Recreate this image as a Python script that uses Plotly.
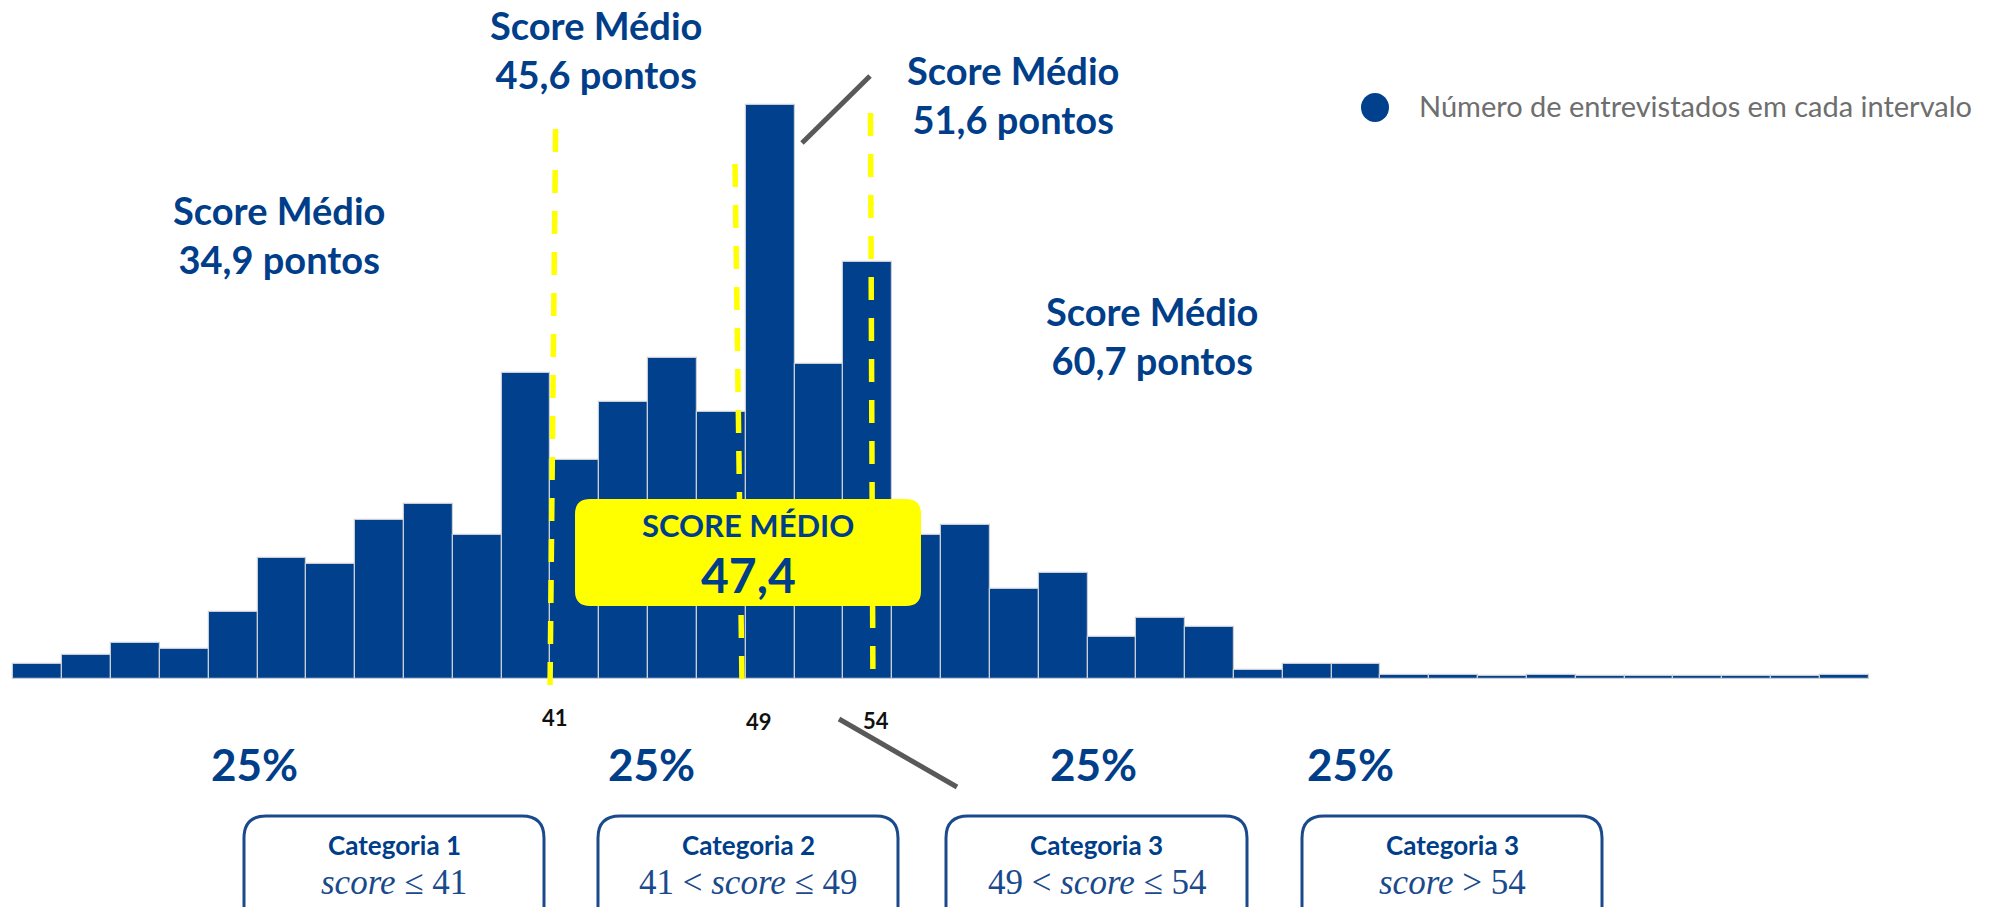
import plotly.graph_objects as go

# ---------------- data ----------------
bin_lower = [19, 21, 23, 25, 27, 29, 31, 33, 35, 37, 39, 41, 43, 45, 47, 49, 51, 53, 55,
             57, 59, 61, 63, 65, 67, 69, 71, 73, 75, 77, 79, 81, 83, 85, 87, 89, 91, 93]
counts = [10, 16, 24, 20, 45, 81, 77, 106, 117, 96, 204, 146, 185, 214, 178, 383, 210, 278, 96,
          103, 60, 71, 28, 41, 35, 6, 10, 10, 3, 3, 2, 3, 2, 2, 2, 2, 2, 3]
cut_points = [41, 49, 54]
group_means = [34.9, 45.6, 51.6, 60.7]
overall_mean = 47.4
group_shares = [25, 25, 25, 25]
group_names = ["Categoria 1", "Categoria 2", "Categoria 3", "Categoria 3"]
legend_name = "Número de entrevistados em cada intervalo"

# ---------------- styles / layout ----------------
W, H = 2011, 907
BIN_W = 2
BLUE = "#00408C"
TXT_BLUE = "#003E8A"
BOX_BLUE = "#1A4A8C"
YELLOW = "#FFFF00"
GREY = "#595959"
FONT = "Lato"


def fmt(v):
    return f"{v:.1f}".replace(".", ",")


def X(px):
    return px / W


def Y(py):
    return 1 - py / H


def rrect(x0, y0, x1, y1, r):
    pts = [
        ("M", [(x0 + r, y0)]), ("L", [(x1 - r, y0)]), ("Q", [(x1, y0), (x1, y0 + r)]),
        ("L", [(x1, y1 - r)]), ("Q", [(x1, y1), (x1 - r, y1)]), ("L", [(x0 + r, y1)]),
        ("Q", [(x0, y1), (x0, y1 - r)]), ("L", [(x0, y0 + r)]), ("Q", [(x0, y0), (x0 + r, y0)]),
    ]
    s = ""
    for cmd, ps in pts:
        s += cmd + " " + " ".join(f"{X(a):.5f},{Y(b):.5f}" for a, b in ps) + " "
    return s + "Z"


fig = go.Figure()
fig.add_trace(go.Bar(
    x=[b + BIN_W / 2 for b in bin_lower], y=counts, width=BIN_W,
    marker=dict(color=BLUE, line=dict(color="#C9CED6", width=1.2)),
    showlegend=False, hoverinfo="skip",
))

shapes = []
annotations = []

# dashed cut lines (layout nudges to follow the drawing)
cut_nudge = [(0.21, -0.02), (-0.44, -0.15), (0.11, 0.21)]
cut_top_px = [129, 164, 113]
cut_bot_px = [693, 691, 683]
for c, (nt, nb), t, b in zip(cut_points, cut_nudge, cut_top_px, cut_bot_px):
    shapes.append(dict(type="line", xref="x", yref="paper", x0=c + nt, x1=c + nb,
                       y0=Y(t), y1=Y(b), layer="above",
                       line=dict(color=YELLOW, width=5.5, dash="23px,18px")))

# cut labels
cut_lbl_dx = [0.19, 0.55, 0.34]
cut_lbl_y = [717, 721, 720]
for c, dx, yy in zip(cut_points, cut_lbl_dx, cut_lbl_y):
    annotations.append(dict(x=c + dx, xref="x", y=Y(yy), yref="paper", text=f"<b>{c}</b>",
                            showarrow=False, xanchor="center", yanchor="middle",
                            font=dict(family=FONT, size=22, color="#111111")))

# grey connector lines
shapes.append(dict(type="line", xref="paper", yref="paper", x0=X(870), y0=Y(76), x1=X(802), y1=Y(143),
                   layer="above", line=dict(color=GREY, width=5)))
shapes.append(dict(type="line", xref="paper", yref="paper", x0=X(839), y0=Y(719), x1=X(957), y1=Y(787),
                   layer="above", line=dict(color=GREY, width=5)))

# group mean labels
mean_pos = [(279, 235), (596, 50), (1013, 95), (1152, 335)]
for m, (px, py) in zip(group_means, mean_pos):
    annotations.append(dict(x=X(px), y=Y(py), xref="paper", yref="paper",
                            text=f"<b>Score Médio<br>{fmt(m)} pontos</b>", showarrow=False,
                            xanchor="center", yanchor="middle",
                            font=dict(family=FONT, size=38, color=TXT_BLUE)))

# overall mean yellow box
shapes.append(dict(type="path", xref="paper", yref="paper", path=rrect(575, 499, 921, 606, 15),
                   fillcolor=YELLOW, line=dict(width=0), layer="above"))
annotations.append(dict(x=X(748), y=Y(525), xref="paper", yref="paper", text="<b>SCORE MÉDIO</b>",
                        showarrow=False, xanchor="center", yanchor="middle",
                        font=dict(family=FONT, size=31, color=TXT_BLUE)))
annotations.append(dict(x=X(748), y=Y(574), xref="paper", yref="paper", text=f"<b>{fmt(overall_mean)}</b>",
                        showarrow=False, xanchor="center", yanchor="middle",
                        font=dict(family=FONT, size=48, color=TXT_BLUE)))

# shares
share_x = [254, 651, 1093, 1350]
for s, px in zip(group_shares, share_x):
    annotations.append(dict(x=X(px), y=Y(764), xref="paper", yref="paper", text=f"<b>{s}%</b>",
                            showarrow=False, xanchor="center", yanchor="middle",
                            font=dict(family=FONT, size=44, color=TXT_BLUE)))

# category boxes
conds = [
    f"<i>score</i> ≤ {cut_points[0]}",
    f"{cut_points[0]} < <i>score</i> ≤ {cut_points[1]}",
    f"{cut_points[1]} < <i>score</i> ≤ {cut_points[2]}",
    f"<i>score</i> > {cut_points[2]}",
]
box_x = [(244, 544), (598, 898), (946, 1247), (1302, 1602)]
for name, cond, (x0, x1) in zip(group_names, conds, box_x):
    shapes.append(dict(type="path", xref="paper", yref="paper", path=rrect(x0, 816, x1, 940, 22),
                       fillcolor="white", line=dict(color=BOX_BLUE, width=3), layer="above"))
    annotations.append(dict(x=X((x0 + x1) / 2), y=Y(845), xref="paper", yref="paper",
                            text=f"<b>{name}</b>", showarrow=False, xanchor="center", yanchor="middle",
                            font=dict(family=FONT, size=26, color=TXT_BLUE)))
    annotations.append(dict(x=X((x0 + x1) / 2), y=Y(882), xref="paper", yref="paper",
                            text=cond, showarrow=False, xanchor="center", yanchor="middle",
                            font=dict(family="Liberation Serif", size=35, color=BOX_BLUE)))

# legend marker + text
shapes.append(dict(type="circle", xref="paper", yref="paper", x0=X(1361), x1=X(1389), y0=Y(93), y1=Y(122),
                   fillcolor=BLUE, line=dict(width=0), layer="above"))
annotations.append(dict(x=X(1417), y=Y(106), xref="paper", yref="paper", text=legend_name,
                        showarrow=False, xanchor="left", yanchor="middle",
                        font=dict(family=FONT, size=29, color="#6E6E6E")))

fig.update_layout(
    width=W, height=H, margin=dict(l=0, r=0, t=0, b=0),
    paper_bgcolor="white", plot_bgcolor="white",
    bargap=0, showlegend=False,
    xaxis=dict(range=[18.451, 100.83], visible=False, fixedrange=True),
    yaxis=dict(range=[-152, 452.67], visible=False, fixedrange=True),
    shapes=shapes, annotations=annotations,
)

fig.write_html("out.html", config={"displayModeBar": False},
               post_script="document.body.style.margin='0';document.body.style.overflow='hidden';")
